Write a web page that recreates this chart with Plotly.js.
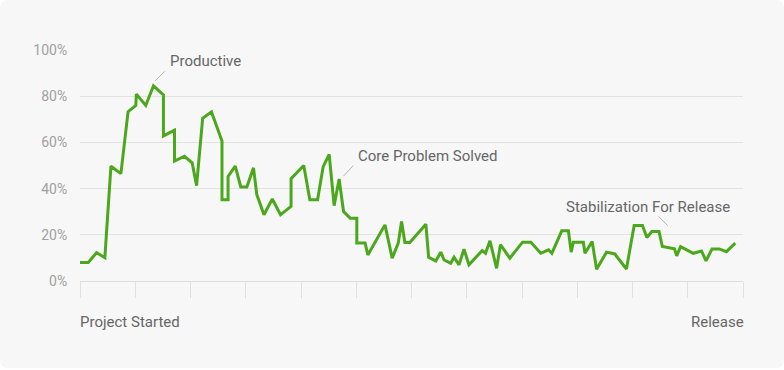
<!DOCTYPE html>
<html>
<head>
<meta charset="utf-8">
<script src="https://cdn.plot.ly/plotly-3.0.1.min.js"></script>
<style>
  html, body { margin: 0; padding: 0; background: #ffffff; }
  #card { position: absolute; left: 0; top: 0; width: 784px; height: 368px; background: #f7f7f7; border-radius: 7px; overflow: hidden; }
  #chart { width: 784px; height: 370px; }
</style>
</head>
<body>
<div id="card"><div id="chart"></div></div>
<script>
// progress timeline (x: time units, 0 = project start, 120 = release)
const timeX = [0, 1.5, 3.0, 4.5, 5.6, 7.4, 8.7, 10.1, 10.2, 11.9, 13.3, 15.1, 15.1, 17.1, 17.1, 18.9,
  20.3, 21.1, 22.2, 23.8, 25.7, 25.7, 26.8, 26.8, 28.1, 29.1, 30.2, 31.4, 32.0, 33.3, 34.8, 36.3,
  38.2, 38.2, 40.5, 41.6, 43.0, 44.0, 45.1, 46.0, 46.9, 47.7, 48.9, 50.1, 50.1, 51.6, 52.1, 55.2,
  56.5, 57.6, 58.2, 58.8, 59.7, 62.6, 63.1, 64.4, 65.3, 65.9, 67.1, 67.7, 68.6, 69.5, 70.4, 72.8,
  73.4, 74.2, 75.4, 76.1, 77.8, 80.1, 81.6, 83.4, 84.8, 85.4, 87.2, 88.4, 88.9, 89.3, 91.1, 91.4,
  92.7, 93.5, 95.3, 96.8, 98.9, 100.3, 101.8, 102.6, 103.5, 104.8, 105.4, 107.6, 108.0, 108.7,
  111.0, 112.5, 113.3, 114.4, 115.7, 117.0, 118.6];
const progress = [8, 8, 12.3, 10.1, 49.7, 46.5, 73.3, 76, 80.9, 76, 84.5, 80.6, 62.8, 65.3, 51.9, 54,
  51.2, 41.3, 70.4, 73.2, 60.6, 35.2, 35.2, 45.3, 49.7, 40.7, 40.7, 49, 37.4, 28.7, 35.5, 28.7,
  32.3, 44.3, 50, 35.2, 35.2, 49.4, 54.8, 32.6, 44.2, 30.1, 27.2, 27.2, 16.4, 16.4, 11.3, 24.3,
  9.9, 16.4, 25.8, 16.7, 16.7, 24.6, 10.3, 8.7, 12.5, 9.1, 7.7, 10.3, 7, 13.8, 7, 13.2,
  12, 17.4, 5.5, 15.7, 9.9, 16.8, 16.8, 12, 13.5, 12, 21.7, 21.7, 12.5, 16.8, 16.8, 12,
  17.1, 5.1, 12.5, 11.7, 5.2, 24, 24, 18.8, 21.4, 21.4, 14.9, 13.9, 10.9, 14.9,
  12, 13, 8.7, 13.9, 13.9, 12.7, 16.4];

const yTickVals = [0, 20, 40, 60, 80, 100];
const yTickText = ['0%', '20%', '40%', '60%', '80%', '100%'];
const xTickVals = [0, 10, 20, 30, 40, 50, 60, 70, 80, 90, 100, 110, 120];
const endLabels = ['Project Started', 'Release'];
const noteTexts = ['Productive', 'Core Problem Solved', 'Stabilization For Release'];
const noteX = [13.6, 47.7, 106.4];
const noteY = [86.6, 45.4, 23.9];

const font = 'Roboto, "Open Sans", sans-serif';
const labelFont = { family: font, size: 15, color: '#666666' };

const trace = {
  x: timeX, y: progress, type: 'scatter', mode: 'lines',
  line: { color: '#4ba71c', width: 3, shape: 'linear' },
  hoverinfo: 'skip', cliponaxis: false
};

const annotations = [
  // end labels
  { xref: 'paper', yref: 'paper', x: 0, y: 0, xanchor: 'left', yanchor: 'middle', yshift: -41, xshift: -2,
    text: endLabels[0], showarrow: false, font: labelFont },
  { xref: 'paper', yref: 'paper', x: 1, y: 0, xanchor: 'right', yanchor: 'middle', yshift: -41, xshift: 3,
    text: endLabels[1], showarrow: false, font: labelFont },
  // callout leader lines
  { x: noteX[0], y: noteY[0], ax: 11, ay: -11, text: '', showarrow: true, arrowhead: 0, arrowwidth: 1, arrowcolor: '#b5b5b5' },
  { x: noteX[1], y: noteY[1], ax: 11, ay: -12, text: '', showarrow: true, arrowhead: 0, arrowwidth: 1, arrowcolor: '#b5b5b5' },
  { x: noteX[2], y: noteY[2], ax: -11, ay: -11, text: '', showarrow: true, arrowhead: 0, arrowwidth: 1, arrowcolor: '#b5b5b5' },
  // callout texts
  { x: noteX[0], y: noteY[0], xshift: 13, yshift: 20, xanchor: 'left', yanchor: 'middle', text: noteTexts[0],
    showarrow: false, font: labelFont },
  { x: noteX[1], y: noteY[1], xshift: 12, yshift: 20, xanchor: 'left', yanchor: 'middle', text: noteTexts[1],
    showarrow: false, font: labelFont },
  { x: noteX[2], y: noteY[2], xshift: 64, yshift: 19, xanchor: 'right', yanchor: 'middle', text: noteTexts[2],
    showarrow: false, font: labelFont }
];

const layout = {
  width: 784, height: 370,
  margin: { l: 80, r: 41, t: 50, b: 89, pad: 0 },
  paper_bgcolor: 'rgba(0,0,0,0)', plot_bgcolor: 'rgba(0,0,0,0)',
  showlegend: false,
  font: { family: font },
  xaxis: {
    range: [0, 120], tickvals: xTickVals, showticklabels: false,
    ticks: 'outside', ticklen: 16, tickwidth: 1, tickcolor: '#e0e0e0',
    showgrid: false, zeroline: false, showline: false, fixedrange: true
  },
  yaxis: {
    range: [0, 100], tickvals: yTickVals, ticktext: yTickText,
    ticks: 'outside', ticklen: 9, tickcolor: 'rgba(0,0,0,0)',
    showgrid: true, gridcolor: '#e2e2e2', gridwidth: 1,
    zeroline: true, zerolinecolor: '#dedede', zerolinewidth: 1,
    showline: false, fixedrange: true,
    tickfont: { family: font, size: 14, color: '#a0a0a0' }
  },
  annotations: annotations
};

Plotly.newPlot('chart', [trace], layout, { displayModeBar: false, staticPlot: true });
</script>
</body>
</html>
